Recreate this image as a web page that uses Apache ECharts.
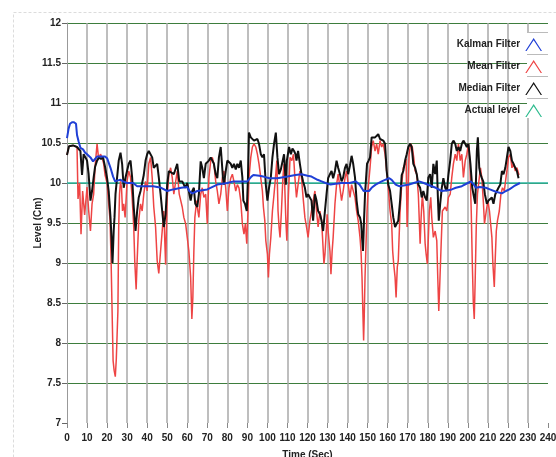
<!DOCTYPE html>
<html>
<head>
<meta charset="utf-8">
<script src="https://cdn.jsdelivr.net/npm/echarts@6/dist/echarts.min.js"></script>
<style>html,body{margin:0;padding:0;background:#fff;}#c{width:556px;height:457px;}</style>
</head>
<body>
<div id="c"></div>
<script>
const seriesNames = ['Kalman Filter', 'Mean Filter', 'Median Filter', 'Actual level'];
const xTicks = [0, 240, 10];
const yTicks = [7, 12, 0.5];

const kalman = [[0,10.56],[0.8,10.68],[1.5,10.74],[2.5,10.76],[3.5,10.76],[4.5,10.74],[5,10.6],[5.8,10.52],[6.7,10.44],[8,10.42],[9,10.38],[10,10.36],[11.7,10.32],[13,10.27],[14,10.3],[15,10.33],[17,10.33],[19,10.33],[20,10.31],[21.7,10.19],[23,10.08],[24,10.02],[25,10.03],[26.7,10.04],[28,10.02],[30,10.0],[33,10.0],[35,9.96],[40,9.96],[43,9.96],[47,9.94],[50,9.9],[53,9.92],[57,9.94],[60,9.95],[61,9.9],[62.5,9.87],[65,9.9],[70,9.92],[75,9.98],[80,10.0],[83,10.02],[87,10.02],[90,10.02],[92,10.08],[93,10.1],[96,10.09],[98,10.08],[101,10.06],[105,10.06],[110,10.08],[114,10.1],[117,10.11],[120,10.09],[122,10.08],[125,10.04],[127,10.02],[129,10.0],[131.5,9.98],[134,9.99],[137,10.0],[141,10.0],[144,10.02],[146,9.98],[148,9.9],[150.7,9.9],[152,9.94],[154,9.98],[157,10.02],[160.7,10.06],[162,10.04],[164,9.98],[165.7,9.96],[168,9.97],[170.7,9.98],[173,10.0],[175.7,10.02],[178,10.0],[182,9.96],[184,9.94],[187,9.9],[190,9.91],[192,9.92],[194,9.94],[197,9.96],[200,10.0],[201.5,10.02],[203,9.98],[204,9.94],[206,9.95],[209,9.94],[211,9.92],[214,9.89],[217,9.87],[219,9.9],[220.7,9.92],[223,9.96],[226,10.0]];

const meanFilter = [[0,10.35],[1,10.46],[3,10.47],[5,10.45],[5.5,9.8],[6.3,10.0],[7,9.36],[7.8,9.9],[8.8,9.6],[10,9.95],[10.8,9.66],[11.7,9.4],[12.5,9.74],[13.3,9.86],[14,10.2],[15,10.49],[15.8,10.3],[16.7,10.36],[17.5,10.32],[18.3,10.24],[19,10.1],[20,10.0],[20.8,9.74],[21.5,9.53],[22,9.03],[22.5,8.4],[23,7.78],[23.5,7.66],[24.1,7.58],[24.6,7.8],[25,8.1],[25.4,8.4],[25.8,9.45],[26.2,9.86],[26.7,10.02],[27.2,9.94],[27.7,9.65],[28.3,9.74],[29,9.57],[30,10.03],[30.8,10.15],[31.7,10.07],[32.5,9.82],[33.3,9.45],[33.8,9.03],[34.5,8.67],[35,9.03],[35.8,9.53],[36.7,9.74],[37.5,9.65],[38.3,9.86],[39.2,10.02],[40,9.9],[40.8,10.24],[41.7,10.32],[42.5,10.07],[43.3,9.7],[44.2,9.45],[45,9.03],[45.8,8.87],[46.7,9.15],[47.5,9.4],[48.3,9.65],[49.2,8.98],[50,9.82],[50.8,10.1],[51.7,10.19],[52.5,10.07],[53.3,9.86],[55,10.15],[56,9.86],[57.5,9.7],[58.3,9.57],[59.2,9.49],[60,9.32],[60.8,9.15],[61.7,8.82],[62.3,8.3],[62.8,8.57],[63.3,9.15],[63.8,9.57],[64.7,9.78],[65.3,9.65],[65.8,9.57],[66.7,9.86],[67.5,9.94],[68.3,9.82],[69.2,9.86],[70,9.49],[70.8,10.06],[71.7,10.28],[72.5,10.32],[73.3,10.24],[74.2,10.02],[75,9.9],[75.8,9.74],[76.7,9.86],[77.5,10.06],[78.3,10.15],[79.2,9.94],[80,9.65],[80.8,9.94],[81.7,10.06],[82.5,10.11],[83.3,10.02],[84.2,9.9],[85,9.98],[85.8,9.94],[86.7,9.78],[87.5,9.49],[88.3,9.36],[89,9.49],[89.7,9.24],[90.3,9.65],[90.8,10.06],[91.7,10.32],[92.5,10.45],[93.3,10.49],[94.2,10.45],[95,10.36],[95.8,10.24],[96.7,10.06],[97.5,9.9],[98,9.7],[98.7,9.53],[99.2,9.28],[100,9.11],[100.5,8.82],[101,9.11],[101.7,9.32],[102.5,9.65],[103.3,9.86],[104,10.06],[104.7,10.28],[105.3,9.65],[105.8,9.45],[106.3,9.32],[107,9.65],[107.7,10.06],[108.3,10.24],[109.2,9.53],[109.7,9.28],[110.5,9.86],[111.3,10.32],[112.2,10.28],[113,10.36],[113.7,10.07],[114.5,9.82],[115.3,9.98],[116.2,10.15],[117,10.07],[117.8,9.82],[118.7,9.57],[119.5,9.45],[120.3,9.32],[121.2,9.53],[122,9.65],[122.8,9.77],[123.7,9.9],[124.5,9.65],[125.3,9.45],[126.2,9.65],[127,9.53],[127.5,9.32],[128.2,8.99],[128.7,9.11],[129.2,9.32],[129.8,9.61],[130.3,9.4],[131.2,9.15],[131.7,8.86],[132.3,9.15],[132.8,9.32],[133.7,9.74],[134.5,9.98],[135.3,10.11],[136.2,9.94],[137,9.78],[137.8,9.9],[138.7,10.06],[139.5,10.15],[140.3,9.98],[141.2,9.82],[142,9.98],[142.8,9.98],[143.7,9.82],[144.5,9.65],[145.3,9.53],[146.2,9.32],[146.7,9.15],[147.2,8.82],[147.7,8.32],[148,8.03],[148.3,8.32],[148.7,8.82],[149.2,9.24],[149.7,9.65],[150.3,9.94],[151.2,10.19],[152,10.45],[152.8,10.53],[153.7,10.4],[154.5,10.49],[155.3,10.36],[156.2,10.53],[157,10.45],[157.8,10.49],[158.7,10.36],[159.5,10.15],[160.3,9.94],[161.2,9.65],[162,9.49],[162.5,9.15],[163,8.99],[163.7,8.82],[164.2,8.57],[164.8,8.95],[165.3,9.03],[165.7,9.32],[166.2,9.65],[167,9.98],[167.8,10.19],[168.7,10.24],[169.2,10.3],[169.7,9.45],[170.2,9.86],[170.7,10.36],[171.5,10.49],[172.3,10.45],[173,10.32],[173.7,10.15],[174.5,10.11],[175.3,9.86],[176.2,9.24],[176.7,9.57],[177.3,9.86],[178,9.65],[178.7,9.24],[179.2,9.11],[179.8,8.99],[180.3,9.32],[180.8,9.65],[181.5,9.82],[182,9.57],[182.8,9.32],[183.7,9.4],[184.5,9.28],[185,8.82],[185.5,8.4],[186,8.74],[186.7,9.24],[187.3,9.65],[188,9.65],[188.7,9.7],[189.5,9.65],[190.3,9.82],[191.2,9.86],[192,10.07],[192.8,10.24],[193.7,10.36],[194.5,10.28],[195.3,10.49],[196.2,10.28],[197,10.36],[197.8,10.07],[198.7,10.28],[199.5,10.36],[200.3,10.49],[201,10.28],[201.7,9.65],[202.2,9.03],[202.7,8.53],[203.2,8.3],[203.7,8.82],[204.2,9.45],[204.8,9.86],[205.7,10.06],[206.3,10.19],[207,10.06],[207.8,9.74],[208.3,9.49],[209.2,9.65],[210,9.78],[210.8,9.65],[212,9.32],[212.5,8.99],[213.2,8.7],[213.7,9.07],[214.2,9.4],[214.8,9.53],[215.7,9.65],[216.5,9.86],[217.3,9.94],[218.2,9.9],[219,10.06],[219.7,10.19],[220.3,10.32],[221.2,10.36],[222,10.19],[222.8,10.24],[223.7,10.15],[224.5,10.19],[225.5,10.1]];

const medianFilter = [[0,10.35],[1,10.46],[3,10.47],[5,10.45],[5.8,10.43],[6.7,10.4],[7.5,10.1],[8.3,10.36],[9.2,10.32],[10,10.28],[10.8,10.11],[11.7,9.78],[12.5,9.9],[13.3,10.07],[14,10.2],[15,10.28],[16,10.32],[17,10.3],[18,10.32],[19,10.2],[20,10.06],[20.8,9.9],[21.7,9.57],[22.2,9.32],[22.7,9.0],[23.3,9.4],[23.7,9.57],[24.2,9.86],[25,10.07],[25.8,10.28],[26.7,10.38],[27.5,10.24],[28.3,9.94],[29.2,10.07],[30,10.07],[30.8,10.24],[31.7,10.28],[32.5,10.07],[33.3,9.7],[34.2,9.4],[35,9.65],[35.8,9.82],[36.7,9.9],[38.3,10.1],[39.2,10.28],[40,10.36],[40.8,10.4],[41.7,10.42],[42.5,10.32],[43.3,10.19],[45,10.24],[45.8,10.07],[46.7,9.86],[47.5,9.65],[48.3,9.45],[49.2,9.61],[50,9.98],[50.8,10.15],[51.7,10.17],[53.3,10.11],[55,10.24],[56,10.02],[57.5,10.02],[58.3,9.98],[59,9.94],[60,10.0],[60.8,9.98],[61.7,9.78],[62.5,9.9],[63.3,9.94],[64,9.74],[65,9.7],[65.8,9.86],[66.7,10.27],[67.5,10.19],[68.3,10.06],[69.2,10.24],[70,10.24],[70.8,10.28],[71.7,10.32],[73.3,10.24],[74.2,10.11],[75,10.06],[75.8,10.32],[76.7,10.45],[77.2,10.28],[77.8,10.07],[78.3,9.98],[79.2,10.15],[80,10.28],[80.8,10.3],[81.7,10.24],[82.5,10.19],[83.3,10.24],[84.2,10.17],[85,10.24],[85.8,10.19],[86.7,10.28],[87.5,10.07],[88,9.78],[88.8,9.74],[89.7,9.65],[90.3,10.07],[90.8,10.63],[91.7,10.57],[92.5,10.55],[93.3,10.53],[94.2,10.51],[95,10.55],[95.8,10.49],[96.7,10.36],[97.5,10.32],[98.3,10.36],[99.2,9.98],[100,9.78],[100.8,9.94],[101.7,10.07],[102.5,10.32],[103.3,10.49],[104.2,10.63],[105,10.32],[105.8,10.11],[106.7,10.17],[107.5,10.15],[108.3,10.36],[109.2,9.98],[109.7,10.28],[110.8,10.45],[111.7,10.36],[112.5,10.43],[113.3,10.4],[114,10.36],[114.5,10.28],[115.3,10.4],[116.2,10.24],[117,10.11],[117.8,10.02],[118.7,9.94],[119.5,9.82],[120.3,9.86],[121.2,9.86],[122,9.78],[122.8,9.53],[123.7,9.86],[124.5,9.78],[125.3,9.65],[126.2,9.61],[127,9.53],[127.8,9.4],[128.7,9.65],[129.5,9.86],[130.3,10.06],[131.2,10.11],[132,10.15],[132.8,10.06],[133.7,10.15],[134.5,10.28],[135.3,10.19],[136.2,10.11],[137,10.02],[137.8,10.07],[138.7,10.19],[139.5,10.24],[140.3,10.11],[141.2,10.22],[142,10.34],[142.8,10.24],[143.7,10.07],[144.5,9.78],[145.3,9.61],[146.2,9.57],[146.8,9.49],[147.2,9.32],[147.7,9.15],[148.2,9.53],[148.7,9.86],[149.7,10.24],[150.5,10.28],[151.2,10.32],[152,10.57],[152.8,10.55],[153.7,10.57],[154.5,10.55],[155.3,10.61],[156.2,10.55],[157,10.57],[157.8,10.53],[158.7,10.49],[159.5,10.15],[160.3,9.98],[161.2,9.9],[162,9.74],[162.8,9.57],[163.7,9.45],[164.5,9.49],[165.3,9.53],[166.2,9.78],[167,10.1],[167.8,10.15],[168.7,10.28],[169.5,10.36],[170.3,10.45],[171.2,10.49],[172,10.45],[172.8,10.24],[173.7,10.19],[174.5,10.11],[175.3,9.98],[176.2,9.94],[177,9.82],[177.8,9.9],[178.7,9.82],[179.5,9.78],[180.3,10.07],[181.2,10.11],[182,9.94],[182.8,10.24],[183.7,10.11],[184.5,10.28],[185,9.86],[185.5,9.53],[186.2,9.74],[187,9.94],[187.8,10.06],[188.7,9.94],[189.5,9.9],[190.3,10.1],[191.2,10.28],[192,10.49],[192.8,10.53],[193.7,10.49],[194.5,10.4],[195.3,10.45],[196.2,10.4],[197,10.49],[197.8,10.53],[198.7,10.49],[199.5,10.45],[200.3,10.49],[201.3,10.24],[202.2,9.94],[203.7,9.74],[204.5,10.4],[205,10.57],[205.7,10.19],[206.3,10.11],[207,10.06],[207.7,10.02],[208.5,9.86],[209.5,9.74],[210.3,9.78],[211.2,9.8],[212,9.82],[212.8,9.74],[213.7,9.86],[214.5,9.9],[215.3,9.94],[216.2,9.98],[217,10.15],[217.8,10.11],[218.7,10.19],[219.5,10.32],[220.3,10.45],[221.2,10.4],[222,10.28],[222.8,10.24],[223.7,10.19],[224.5,10.15],[225.3,10.06]];

const actualLevel = [[0,10],[240,10]];

const FONT = "'Liberation Sans',Arial,sans-serif";
const chevron = 'path://M0,14 L9,0 L18,14 L16.6,14 L9,2.4 L1.4,14 Z';

const chart = echarts.init(document.getElementById('c'), null, {renderer: 'canvas'});
chart.setOption({
  animation: false,
  backgroundColor: '#fff',
  grid: {left: 67, right: 8, top: 23, bottom: 34, containLabel: false, outerBoundsMode: 'none'},
  graphic: [
    {type: 'rect', shape: {x: 13.5, y: 12.5, width: 560, height: 460}, style: {fill: 'none', stroke: '#dcdcdc', lineWidth: 1, lineDash: [3, 2]}, z: 0, silent: true},
    {type: 'rect', shape: {x: 527, y: 32, width: 21, height: 86}, style: {fill: '#fff'}, z: 2, silent: true},
    {type: 'line', shape: {x1: 527, y1: 32.5, x2: 548, y2: 32.5}, style: {stroke: '#bbb', lineWidth: 1}, z: 3, silent: true},
    {type: 'line', shape: {x1: 527, y1: 54.5, x2: 548, y2: 54.5}, style: {stroke: '#bbb', lineWidth: 1}, z: 3, silent: true},
    {type: 'line', shape: {x1: 527, y1: 76.5, x2: 548, y2: 76.5}, style: {stroke: '#bbb', lineWidth: 1}, z: 3, silent: true},
    {type: 'line', shape: {x1: 527, y1: 98.5, x2: 548, y2: 98.5}, style: {stroke: '#bbb', lineWidth: 1}, z: 3, silent: true}
  ],
  legend: {
    data: seriesNames,
    orient: 'vertical',
    right: 9,
    top: 33,
    align: 'right',
    itemWidth: 17,
    itemHeight: 13,
    itemGap: 9,
    z: 6,
    textStyle: {fontFamily: FONT, fontSize: 10, fontWeight: 'bold', color: '#222', padding: [0, 0, 0, 0]},
    icon: chevron
  },
  xAxis: {
    type: 'value', min: xTicks[0], max: xTicks[1], interval: xTicks[2],
    name: 'Time (Sec)', nameLocation: 'middle', nameGap: 27, nameMoveOverlap: false,
    nameTextStyle: {fontFamily: FONT, fontSize: 10, fontWeight: 'bold', color: '#222'},
    axisLine: {show: false},
    axisTick: {show: true, length: 5, lineStyle: {color: '#888', width: 1}},
    axisLabel: {fontFamily: FONT, fontSize: 10, fontWeight: 'bold', color: '#222', margin: 10, hideOverlap: false, showMaxLabel: true},
    splitLine: {show: true, showMinLine: false, showMaxLine: false, lineStyle: {color: '#a9a9a9', width: 1.5}}
  },
  yAxis: {
    type: 'value', min: yTicks[0], max: yTicks[1], interval: yTicks[2],
    name: 'Level (Cm)', nameLocation: 'middle', nameGap: 24, nameMoveOverlap: false,
    nameTextStyle: {fontFamily: FONT, fontSize: 10, fontWeight: 'bold', color: '#222'},
    axisLine: {show: true, lineStyle: {color: '#999', width: 1}},
    axisTick: {show: true, length: 5, lineStyle: {color: '#666', width: 1}},
    axisLabel: {fontFamily: FONT, fontSize: 10, fontWeight: 'bold', color: '#222', margin: 6},
    splitLine: {show: true, showMinLine: false, lineStyle: {color: '#3d7d3d', width: 1.2}}
  },
  series: [
    {name: 'Kalman Filter', type: 'line', data: kalman, showSymbol: false, z: 5, color: '#1f3fd6', lineStyle: {width: 2, color: '#1f3fd6'}},
    {name: 'Mean Filter', type: 'line', data: meanFilter, showSymbol: false, z: 3, color: '#ee4444', lineStyle: {width: 1.5, color: '#ee4444'}},
    {name: 'Median Filter', type: 'line', data: medianFilter, showSymbol: false, z: 4, color: '#111', lineStyle: {width: 2, color: '#111'}},
    {name: 'Actual level', type: 'line', data: actualLevel, showSymbol: false, z: 2, color: '#2dbb8e', lineStyle: {width: 1.5, color: '#2db5a0'}}
  ]
});
</script>
</body>
</html>
